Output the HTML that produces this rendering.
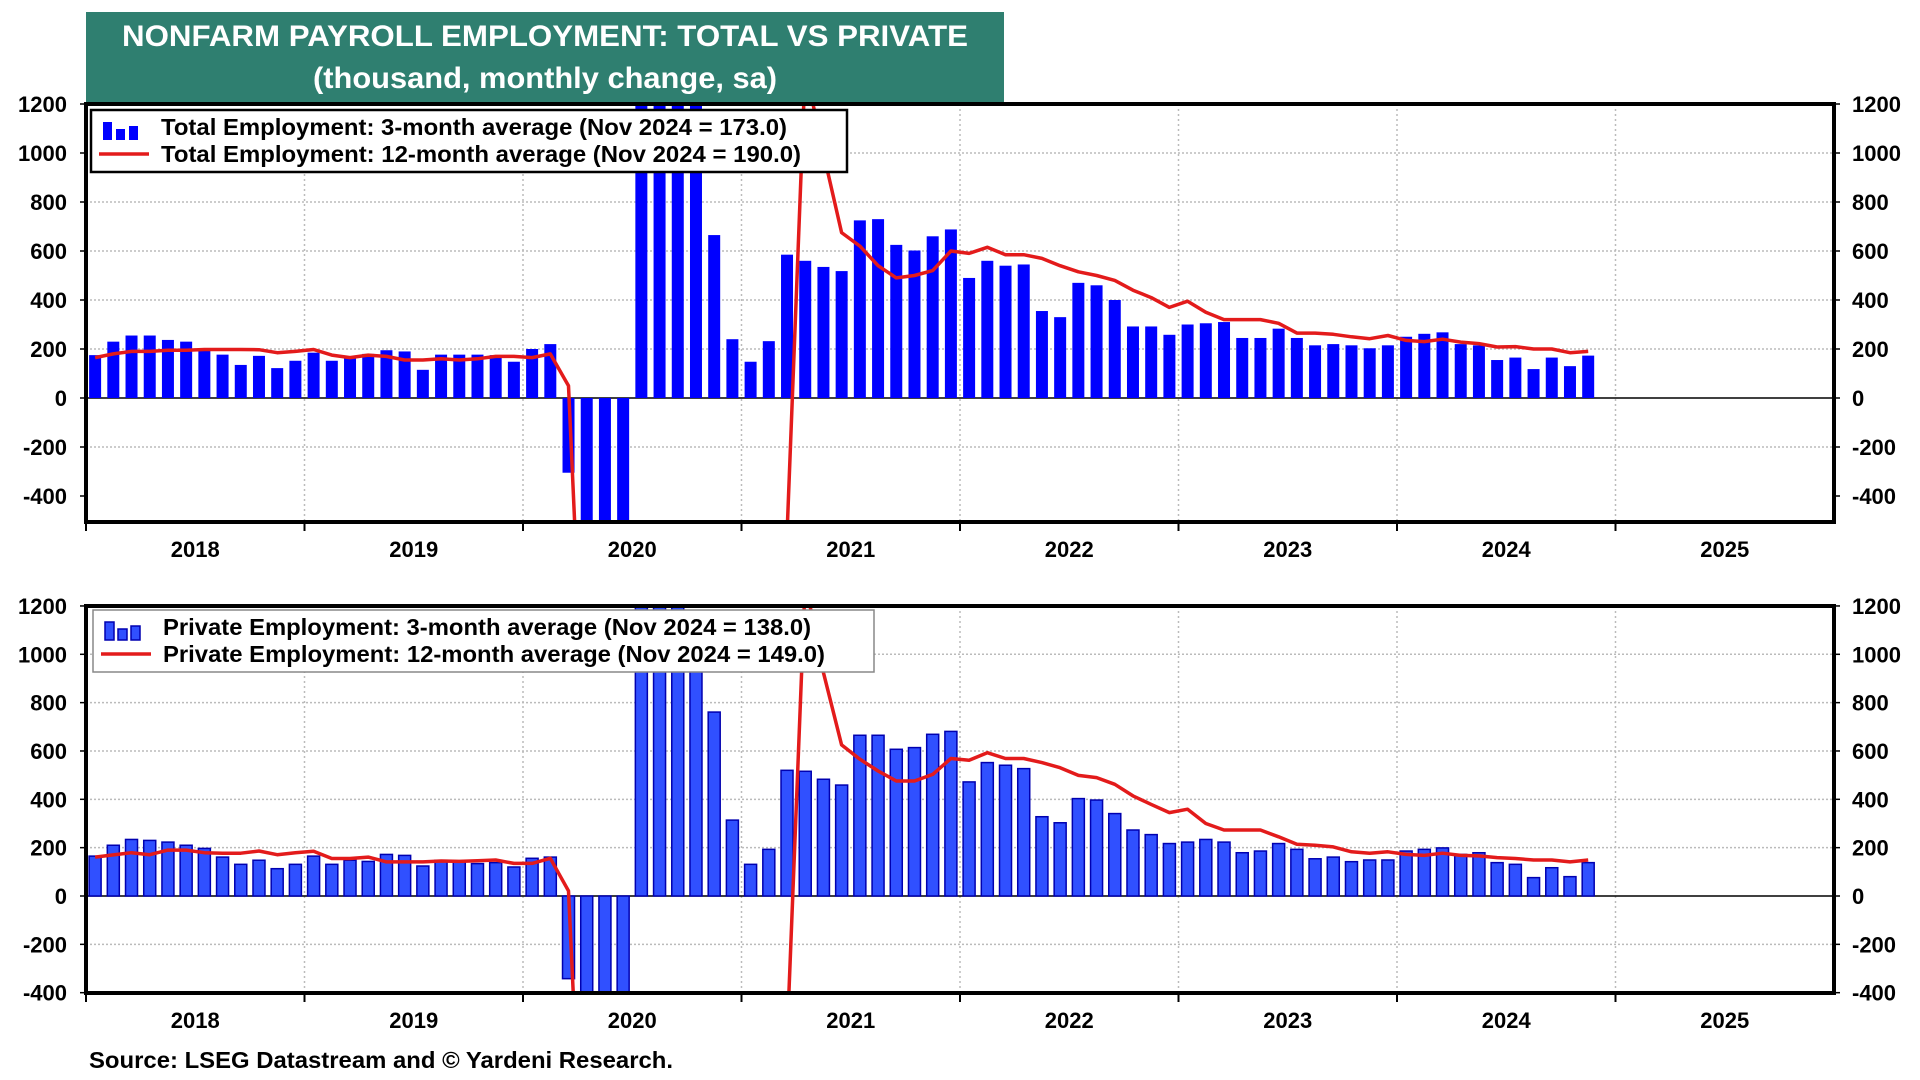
<!DOCTYPE html>
<html><head><meta charset="utf-8"><style>
html,body{margin:0;padding:0;background:#fff;width:1920px;height:1080px;overflow:hidden;font-family:"Liberation Sans",Arial,sans-serif}
svg{display:block}
svg text{font-family:"Liberation Sans",Arial,sans-serif;font-weight:bold}
</style></head><body>
<svg id="chart" width="1920" height="1080" xmlns="http://www.w3.org/2000/svg">
<defs>
<clipPath id="clipTop"><rect x="86" y="104" width="1748" height="418"/></clipPath>
<clipPath id="clipBot"><rect x="86" y="606" width="1748" height="387"/></clipPath>
</defs>
<rect x="86" y="12" width="918" height="90" fill="#2f7f70"/>
<text x="545" y="46" fill="#fff" font-size="30" text-anchor="middle" textLength="846" lengthAdjust="spacingAndGlyphs">NONFARM PAYROLL EMPLOYMENT: TOTAL VS PRIVATE</text>
<text x="545" y="88" fill="#fff" font-size="30" text-anchor="middle" textLength="464" lengthAdjust="spacingAndGlyphs">(thousand, monthly change, sa)</text>
<g id="top"></g><g id="bot"></g>
<text x="89" y="1068" font-size="23" fill="#000" textLength="584" lengthAdjust="spacingAndGlyphs">Source: LSEG Datastream and © Yardeni Research.</text>
</svg>
<script>
const years = ["2018","2019","2020","2021","2022","2023","2024","2025"];
const yTicks = [1200,1000,800,600,400,200,0,-200,-400];
const total3 = [175,230,255,255,237,230,200,177,135,172,122,152,
185,152,165,180,195,190,115,177,177,177,175,148,
200,220,-305,-4400,-6400,-4300,3100,3700,1800,1200,665,240,
148,232,585,560,535,518,725,730,625,602,660,688,
490,560,540,545,355,330,470,460,400,292,292,258,
300,305,310,245,245,283,245,215,220,215,203,215,
250,262,268,220,215,155,165,118,165,130,173];
const total12 = [165,180,190,190,195,195,198,198,198,197,185,190,
198,175,165,175,170,155,155,160,155,160,170,170,
165,180,50,-1600,-1400,-1000,-800,-700,-700,-700,-700,-780,
-770,-750,-560,1350,1000,675,620,540,490,500,520,600,
590,615,585,585,570,540,515,500,480,440,410,370,
395,350,320,320,320,305,265,265,260,250,242,255,
235,230,240,228,222,208,210,200,200,185,190];
const priv3 = [165,210,234,230,223,210,197,161,131,148,113,131,
165,131,148,143,172,168,124,148,143,134,138,120,
156,161,-342,-4500,-6500,-4000,3000,3500,1900,1100,761,314,
131,193,520,516,483,459,665,665,607,614,669,681,
472,552,541,527,328,303,403,397,341,273,254,217,
223,234,223,179,186,217,193,154,161,142,149,149,
186,193,199,172,179,138,131,76,117,80,138];
const priv12 = [161,170,179,171,190,190,179,177,177,186,171,179,
185,155,155,161,141,141,141,145,143,146,149,135,
135,156,21,-1600,-1400,-1000,-800,-700,-700,-700,-700,-780,
-770,-750,-600,1300,925,625,566,517,476,476,503,569,
562,593,569,569,552,531,499,490,462,414,379,345,
359,300,273,273,273,245,214,210,203,183,177,183,
172,168,177,168,166,159,155,149,149,141,149];

const NS="http://www.w3.org/2000/svg";
const X0=86, X1=1834, MW=(X1-X0)/96;
function xm(i){return X0+(i+0.5)*MW;}
function el(tag,attrs,parent,txt){const e=document.createElementNS(NS,tag);for(const k in attrs)e.setAttribute(k,attrs[k]);if(txt!==undefined)e.textContent=txt;parent.appendChild(e);return e;}

function panel(g,cfg){
  const yv=v=>cfg.zero-v*cfg.k;
  yTicks.forEach(t=>{ if(t<cfg.min||t>1200) return; const y=yv(t);
    if(t!==0&&t!==1200&&t!==cfg.min){const gl=el('line',{x1:X0,x2:X1,y1:y,y2:y,stroke:'#bbb','stroke-width':1.5,'stroke-dasharray':'2,2'},g);
      
      }
    const lt=el('text',{x:67,y:y+8,'font-size':22,'text-anchor':'end'},g,String(t));
    
    
    const rt=el('text',{x:1852,y:y+8,'font-size':22,'text-anchor':'start'},g,String(t));
    
    
    el('line',{x1:80,x2:86,y1:y,y2:y,stroke:'#000','stroke-width':1.5},g);
    el('line',{x1:1834,x2:1840,y1:y,y2:y,stroke:'#000','stroke-width':1.5},g);
  });
  years.forEach((yr,j)=>{const x=X0+j*12*MW;
    if(j>0){const vl=el('line',{x1:x,x2:x,y1:cfg.top,y2:cfg.bot,stroke:'#bbb','stroke-width':1.5,'stroke-dasharray':'2,3'},g);
      
      }
    el('line',{x1:x,x2:x,y1:cfg.bot,y2:cfg.bot+9,stroke:'#000','stroke-width':2},g);
    const t=el('text',{x:x+6*MW,y:cfg.yl,'font-size':22,'text-anchor':'middle'},g,yr);
    
    
  });
  const cg=el('g',{'clip-path':'url(#'+cfg.clip+')'},g);
  el('line',{x1:X0,x2:X1,y1:cfg.zero,y2:cfg.zero,stroke:'#000','stroke-width':1.5},cg);
  cfg.bars.forEach((v,i)=>{const y=yv(v);const h=Math.abs(cfg.zero-y);
    const r=el('rect',{x:xm(i)-6,y:Math.min(y,cfg.zero),width:12,height:h,fill:cfg.fill,stroke:cfg.stroke,'stroke-width':cfg.sw},cg);
    
    
  });
  const pts=cfg.line.map((v,i)=>xm(i).toFixed(1)+','+yv(v).toFixed(1)).join(' ');
  const pl=el('polyline',{points:pts,fill:'none',stroke:'#e31b1b','stroke-width':3.5,'stroke-linejoin':'round'},cg);
  
  
  const fr=el('rect',{x:X0,y:cfg.top,width:X1-X0,height:cfg.bot-cfg.top,fill:'none',stroke:'#000','stroke-width':4},g);
  
  
  const L=cfg.leg;
  const lg=el('g',{},g);
  
  
  el('rect',{x:L.x,y:L.y,width:L.w,height:L.h,fill:'#fff',stroke:L.border,'stroke-width':L.bw},lg);
  [[0,18],[13,11],[26,14]].forEach(([dx,hh])=>el('rect',{x:L.x+12+dx,y:L.y+24-hh+6,width:9,height:hh,fill:cfg.fill,stroke:cfg.stroke,'stroke-width':cfg.sw},lg));
  el('line',{x1:L.x+8,x2:L.x+58,y1:L.y+44,y2:L.y+44,stroke:'#e31b1b','stroke-width':3.5},lg);
  const t1=el('text',{x:L.x+70,y:L.y+25,'font-size':23,textLength:L.tl1,lengthAdjust:'spacingAndGlyphs'},lg,L.t1);
  
  
  const t2=el('text',{x:L.x+70,y:L.y+52,'font-size':23,textLength:L.tl2,lengthAdjust:'spacingAndGlyphs'},lg,L.t2);
  
  
}
panel(document.getElementById('top'),{zero:398,k:0.245,top:104,bot:522,min:-400,yl:557,clip:'clipTop',
  bars:total3,line:total12,fill:'#0000ff',stroke:'#0000ff',sw:0,
  leg:{x:91,y:110,w:756,h:62,border:'#000',bw:2.5,tl1:626,tl2:640,t1:'Total Employment: 3-month average (Nov 2024 = 173.0)',t2:'Total Employment: 12-month average (Nov 2024 = 190.0)'}});
panel(document.getElementById('bot'),{zero:896,k:0.2417,top:606,bot:993,min:-400,yl:1028,clip:'clipBot',
  bars:priv3,line:priv12,fill:'#3050ff',stroke:'#0000b0',sw:1.5,
  leg:{x:93,y:610,w:781,h:62,border:'#888',bw:1.5,tl1:648,tl2:662,t1:'Private Employment: 3-month average (Nov 2024 = 138.0)',t2:'Private Employment: 12-month average (Nov 2024 = 149.0)'}});
</script>
</body></html>
